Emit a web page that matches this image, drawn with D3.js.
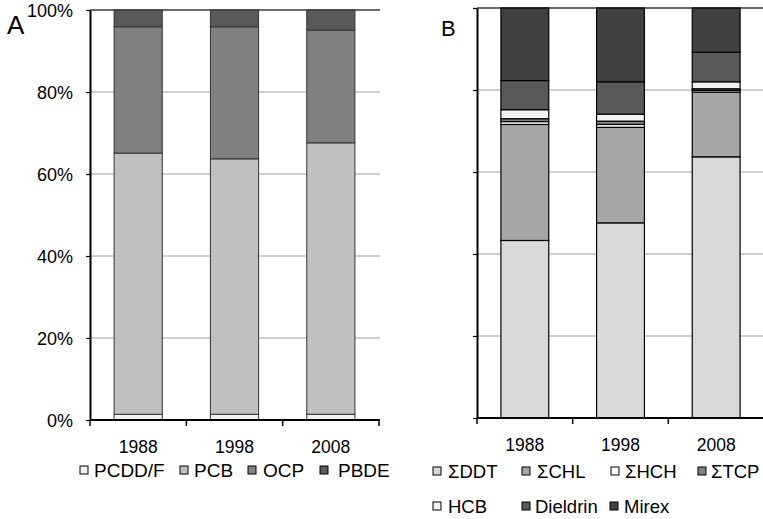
<!DOCTYPE html>
<html lang="en">
<head>
<meta charset="UTF-8">
<title>Stacked composition A/B</title>
<style>
  body { margin: 0; background: #fff; }
  svg { display: block; font-family: "Liberation Sans", Arial, sans-serif; }
</style>
</head>
<body>
<div id="chart"></div>
<script src="https://d3js.org/d3.v7.min.js"></script>
<script>
// ---- data (percent of total) ----
const years = ["1988", "1998", "2008"];

const seriesA = ["PCDD/F", "PCB", "OCP", "PBDE"];
const pcdd = [1.4, 1.4, 1.4];
const pcb  = [63.7, 62.3, 66.2];
const ocp  = [30.8, 32.2, 27.5];
const pbde = [4.1, 4.1, 4.9];

const seriesB = ["ΣDDT", "ΣCHL", "ΣHCH", "ΣTCP", "HCB", "Dieldrin", "Mirex"];
const ddt      = [43.3, 47.6, 63.7];
const chl      = [28.3, 23.3, 15.8];
const hch      = [0.7, 0.7, 0.4];
const tcp      = [0.7, 0.8, 0.4];
const hcb      = [2.2, 1.7, 1.7];
const dieldrin = [7.1, 7.9, 7.2];
const mirex    = [17.7, 18.0, 10.8];

const yTicks = [0, 20, 40, 60, 80, 100];

const colorsA = ["#f0f0f0", "#c0c0c0", "#808080", "#595959"];
const colorsB = ["#d9d9d9", "#a6a6a6", "#ffffff", "#808080", "#f2f2f2", "#595959", "#404040"];

const W = 763, H = 519;
const svg = d3.select("#chart").append("svg").attr("width", W).attr("height", H);

function rows(keys, cols) {
  return years.map((yr, i) => {
    const r = { year: yr };
    keys.forEach((k, j) => r[k] = cols[j][i]);
    return r;
  });
}

function panel(opt) {
  const g = svg.append("g");
  const x = d3.scaleBand().domain(years).range([opt.x0, opt.x1])
    .paddingInner(0.5).paddingOuter(0.25);
  const y = d3.scaleLinear().domain([0, 100]).range([opt.y0, opt.y1]);

  // gridlines
  g.selectAll("line.grid").data(yTicks.filter(d => d > 0)).join("line")
    .attr("x1", opt.x0).attr("x2", opt.gridEnd)
    .attr("y1", d => y(d)).attr("y2", d => y(d))
    .attr("stroke", d => d === 100 ? "#3a3a3a" : "#a0a0a0")
    .attr("stroke-width", d => d === 100 ? 1.5 : 1.2);

  // stacked bars
  const stack = d3.stack().keys(opt.keys)(rows(opt.keys, opt.cols));
  g.selectAll("g.layer").data(stack).join("g")
    .attr("fill", (d, i) => opt.colors[i])
    .selectAll("rect").data(d => d).join("rect")
    .attr("x", d => x(d.data.year))
    .attr("width", x.bandwidth())
    .attr("y", d => y(d[1]))
    .attr("height", d => y(d[0]) - y(d[1]))
    .attr("stroke", opt.barStroke)
    .attr("stroke-width", opt.barStrokeW);

  // y axis
  const ya = d3.axisLeft(y).tickValues(yTicks).tickSize(4).tickSizeOuter(0)
    .tickFormat(opt.labels ? (d => d + "%") : "");
  const yg = g.append("g").attr("transform", `translate(${opt.x0},0)`).call(ya);
  yg.select(".domain").attr("stroke", "#000").attr("stroke-width", 2);
  yg.selectAll(".tick line").attr("stroke", "#000").attr("stroke-width", 1.2);
  yg.selectAll(".tick text").attr("font-size", 18).attr("fill", "#000")
    .attr("x", -17).attr("dy", "0.38em");

  // x axis with ticks at category boundaries
  g.append("line").attr("x1", opt.x0).attr("x2", opt.x1 + 1)
    .attr("y1", opt.y0).attr("y2", opt.y0)
    .attr("stroke", "#000").attr("stroke-width", 2);
  const bounds = d3.range(years.length + 1).map(i => opt.x0 + i * x.step());
  g.selectAll("line.xt").data(bounds).join("line")
    .attr("x1", d => d).attr("x2", d => d)
    .attr("y1", opt.y0).attr("y2", opt.y0 + 6)
    .attr("stroke", "#000").attr("stroke-width", 1.5);
  g.selectAll("text.xl").data(years).join("text")
    .attr("x", d => x(d) + x.bandwidth() / 2)
    .attr("y", opt.y0 + 33)
    .attr("text-anchor", "middle").attr("font-size", 17.5)
    .text(d => d);

  // panel letter
  g.append("text").attr("x", opt.letterX).attr("y", opt.letterY)
    .attr("font-size", opt.letterSize).text(opt.letter);

  // legend
  const lg = g.selectAll("g.leg").data(opt.keys).join("g")
    .attr("transform", (d, i) => `translate(${opt.legend[i][0]},${opt.legend[i][1]})`);
  lg.append("rect").attr("x", 0).attr("y", -4).attr("width", 8).attr("height", 8)
    .attr("fill", (d, i) => opt.colors[i]).attr("stroke", "#000").attr("stroke-width", 1);
  lg.append("text").attr("x", (d, i) => opt.legend[i][2]).attr("y", 0).attr("dy", "0.36em")
    .attr("font-size", opt.legendSize).text(d => d);
}

panel({
  keys: seriesA, cols: [pcdd, pcb, ocp, pbde], colors: colorsA,
  x0: 90, x1: 379, gridEnd: 380, y0: 420, y1: 10,
  labels: true, barStroke: "#333", barStrokeW: 1,
  letter: "A", letterX: 7, letterY: 34, letterSize: 26,
  legend: [[80, 470, 14], [180, 470, 14], [248, 470, 15], [320, 470, 18]],
  legendSize: 19
});

panel({
  keys: seriesB, cols: [ddt, chl, hch, tcp, hcb, dieldrin, mirex], colors: colorsB,
  x0: 477, x1: 764, gridEnd: 763, y0: 418, y1: 8,
  labels: false, barStroke: "#000", barStrokeW: 1.2,
  letter: "B", letterX: 441, letterY: 36, letterSize: 22,
  legend: [[433, 471, 15], [522, 471, 15], [611, 471, 14], [698, 471, 13],
           [433, 506, 15], [522, 506, 13], [610, 506, 14]],
  legendSize: 18.5
});
</script>
</body>
</html>
